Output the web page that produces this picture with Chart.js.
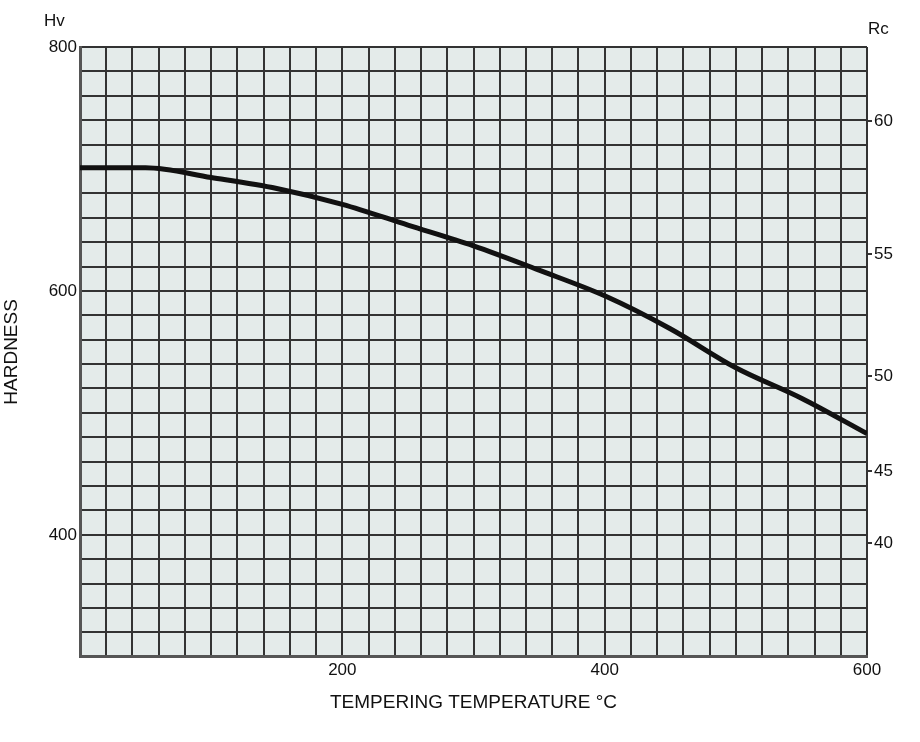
<!DOCTYPE html>
<html><head><meta charset="utf-8">
<script src="https://cdn.jsdelivr.net/npm/chart.js@4"></script>
<style>html,body{margin:0;background:#fff}#w{width:920px;height:742px}</style>
</head><body><div id="w"><canvas id="c"></canvas></div>
<script>
const temps = [0, 50, 100, 150, 200, 250, 300, 350, 400, 450, 500, 550, 600];
const hardness = [701, 701, 693, 684, 671, 654, 637, 617, 596, 569, 537, 512, 483];
const hvTickLabels = [400, 600, 800];
const xTickLabels = [200, 400, 600];
const rcLabels = [60, 55, 50, 45, 40];
const rcAtHv = [739, 630, 530, 452, 393];

const bgPlugin = {
  id: 'bg',
  beforeDraw(ch) {
    const a = ch.chartArea, c = ch.ctx;
    c.save(); c.fillStyle = '#e4ebea'; c.fillRect(a.left, a.top, a.right - a.left, a.bottom - a.top); c.restore();
  },
  afterDraw(ch) {
    const c = ch.ctx, a = ch.chartArea;
    c.save(); c.fillStyle = '#111'; c.font = '17px "Liberation Sans", Arial'; c.textBaseline = 'bottom';
    c.textAlign = 'left'; c.fillText('Hv', 44, 30);
    c.fillText('Rc', 868, 38);
    c.restore();
  }
};

new Chart(document.getElementById('c'), {
  type: 'line',
  data: { datasets: [{ data: temps.map((t, i) => ({ x: t, y: hardness[i] })), borderColor: '#111', borderWidth: 5, pointRadius: 0, tension: 0.4, cubicInterpolationMode: 'monotone' }] },
  options: {
    responsive: true, maintainAspectRatio: false, animation: false,
    layout: { padding: { top: 47, right: 0, bottom: 0, left: 0 } },
    plugins: { legend: { display: false }, tooltip: { enabled: false } },
    scales: {
      x: {
        type: 'linear', min: 0, max: 600,
        ticks: { stepSize: 20, autoSkip: false, maxRotation: 0, color: '#111', font: { size: 17, family: '"Liberation Sans", Arial' },
          callback: v => xTickLabels.includes(v) ? String(v) : '' },
        grid: { color: '#333', lineWidth: 2, drawTicks: false, tickLength: 4 },
        border: { color: '#555', width: 3 },
        title: { display: true, text: 'TEMPERING TEMPERATURE °C', color: '#111', font: { size: 19, family: '"Liberation Sans", Arial' }, padding: { top: 8, bottom: 28 } }
      },
      y: {
        min: 300, max: 800,
        afterFit(s) { s.width = 80; },
        ticks: { stepSize: 20, autoSkip: false, color: '#111', font: { size: 17, family: '"Liberation Sans", Arial' },
          callback: v => hvTickLabels.includes(v) ? String(v) : '' },
        grid: { color: '#333', lineWidth: 2, drawTicks: false },
        border: { color: '#555', width: 3 },
        title: { display: true, text: 'HARDNESS', color: '#111', font: { size: 19, family: '"Liberation Sans", Arial' }, padding: 0 }
      },
      y2: {
        position: 'right', min: 300, max: 800,
        afterFit(s) { s.width = 53; },
        afterBuildTicks(s) { s.ticks = rcAtHv.map(v => ({ value: v })); },
        ticks: { color: '#111', font: { size: 17, family: '"Liberation Sans", Arial' }, padding: 2,
          callback: (v, i) => String(rcLabels[i]) },
        grid: { display: true, drawOnChartArea: false, color: '#333', tickLength: 5, lineWidth: 2 },
        border: { display: false }
      }
    }
  },
  plugins: [bgPlugin]
});
</script></body></html>
